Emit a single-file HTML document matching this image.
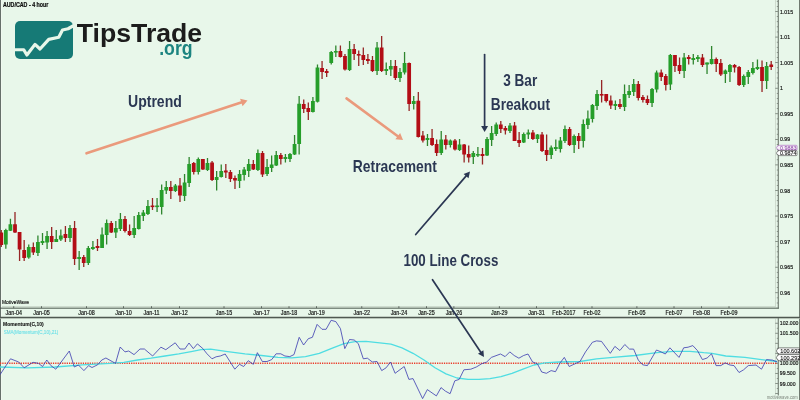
<!DOCTYPE html>
<html><head><meta charset="utf-8"><title>chart</title>
<style>html,body{margin:0;padding:0;background:#e8f7ea;}body{width:800px;height:400px;overflow:hidden;font-family:"Liberation Sans",sans-serif;}svg{display:block;}text{font-family:"Liberation Sans",sans-serif;}</style>
</head><body>
<svg width="800" height="400" viewBox="0 0 800 400">
<defs><filter id="soft" x="-5%" y="-5%" width="110%" height="110%"><feGaussianBlur stdDeviation="0.35"/></filter>
<filter id="soft2" x="-5%" y="-5%" width="110%" height="110%"><feGaussianBlur stdDeviation="0.45"/></filter><filter id="soft3" filterUnits="userSpaceOnUse" x="0" y="0" width="800" height="400"><feGaussianBlur stdDeviation="0.2"/></filter></defs>
<rect x="0" y="0" width="800" height="400" fill="#e8f7ea"/>
<g filter="url(#soft)">
<rect x="0" y="0" width="1.05" height="400" fill="#66706a"/>
<rect x="1.05" y="0" width="0.95" height="400" fill="#f1f9f1"/>
<rect x="799" y="0" width="1" height="400" fill="#6f7a70"/>
<rect x="2" y="306.1" width="773.8" height="0.6" fill="#bcc8bd"/>
<rect x="775.2" y="0" width="0.6" height="306.7" fill="#bcc8bd"/>
<rect x="775.2" y="318.6" width="0.6" height="77" fill="#bcc8bd"/>
<rect x="0" y="307.65" width="778.75" height="1.0" fill="#48524a"/>
<rect x="0" y="316.75" width="800" height="1.35" fill="#4f5951"/><rect x="0" y="318.1" width="800" height="0.7" fill="#a9b5aa"/>
<rect x="777.75" y="0" width="1.0" height="308.6" fill="#5f6a60"/>
<rect x="777.75" y="318.1" width="1.0" height="77.4" fill="#5f6a60"/>
<rect x="776.80" y="0.91" width="1.10" height="0.7" fill="#5f6a60"/>
<rect x="776.80" y="6.03" width="1.10" height="0.7" fill="#5f6a60"/>
<rect x="775.30" y="11.14" width="2.60" height="0.7" fill="#5f6a60"/>
<rect x="776.80" y="16.25" width="1.10" height="0.7" fill="#5f6a60"/>
<rect x="776.80" y="21.37" width="1.10" height="0.7" fill="#5f6a60"/>
<rect x="776.80" y="26.48" width="1.10" height="0.7" fill="#5f6a60"/>
<rect x="776.80" y="31.60" width="1.10" height="0.7" fill="#5f6a60"/>
<rect x="775.30" y="36.71" width="2.60" height="0.7" fill="#5f6a60"/>
<rect x="776.80" y="41.82" width="1.10" height="0.7" fill="#5f6a60"/>
<rect x="776.80" y="46.94" width="1.10" height="0.7" fill="#5f6a60"/>
<rect x="776.80" y="52.05" width="1.10" height="0.7" fill="#5f6a60"/>
<rect x="776.80" y="57.17" width="1.10" height="0.7" fill="#5f6a60"/>
<rect x="775.30" y="62.28" width="2.60" height="0.7" fill="#5f6a60"/>
<rect x="776.80" y="67.39" width="1.10" height="0.7" fill="#5f6a60"/>
<rect x="776.80" y="72.51" width="1.10" height="0.7" fill="#5f6a60"/>
<rect x="776.80" y="77.62" width="1.10" height="0.7" fill="#5f6a60"/>
<rect x="776.80" y="82.74" width="1.10" height="0.7" fill="#5f6a60"/>
<rect x="775.30" y="87.85" width="2.60" height="0.7" fill="#5f6a60"/>
<rect x="776.80" y="92.96" width="1.10" height="0.7" fill="#5f6a60"/>
<rect x="776.80" y="98.08" width="1.10" height="0.7" fill="#5f6a60"/>
<rect x="776.80" y="103.19" width="1.10" height="0.7" fill="#5f6a60"/>
<rect x="776.80" y="108.31" width="1.10" height="0.7" fill="#5f6a60"/>
<rect x="775.30" y="113.42" width="2.60" height="0.7" fill="#5f6a60"/>
<rect x="776.80" y="118.53" width="1.10" height="0.7" fill="#5f6a60"/>
<rect x="776.80" y="123.65" width="1.10" height="0.7" fill="#5f6a60"/>
<rect x="776.80" y="128.76" width="1.10" height="0.7" fill="#5f6a60"/>
<rect x="776.80" y="133.88" width="1.10" height="0.7" fill="#5f6a60"/>
<rect x="775.30" y="138.99" width="2.60" height="0.7" fill="#5f6a60"/>
<rect x="776.80" y="144.10" width="1.10" height="0.7" fill="#5f6a60"/>
<rect x="776.80" y="149.22" width="1.10" height="0.7" fill="#5f6a60"/>
<rect x="776.80" y="154.33" width="1.10" height="0.7" fill="#5f6a60"/>
<rect x="776.80" y="159.45" width="1.10" height="0.7" fill="#5f6a60"/>
<rect x="775.30" y="164.56" width="2.60" height="0.7" fill="#5f6a60"/>
<rect x="776.80" y="169.67" width="1.10" height="0.7" fill="#5f6a60"/>
<rect x="776.80" y="174.79" width="1.10" height="0.7" fill="#5f6a60"/>
<rect x="776.80" y="179.90" width="1.10" height="0.7" fill="#5f6a60"/>
<rect x="776.80" y="185.02" width="1.10" height="0.7" fill="#5f6a60"/>
<rect x="775.30" y="190.13" width="2.60" height="0.7" fill="#5f6a60"/>
<rect x="776.80" y="195.24" width="1.10" height="0.7" fill="#5f6a60"/>
<rect x="776.80" y="200.36" width="1.10" height="0.7" fill="#5f6a60"/>
<rect x="776.80" y="205.47" width="1.10" height="0.7" fill="#5f6a60"/>
<rect x="776.80" y="210.59" width="1.10" height="0.7" fill="#5f6a60"/>
<rect x="775.30" y="215.70" width="2.60" height="0.7" fill="#5f6a60"/>
<rect x="776.80" y="220.81" width="1.10" height="0.7" fill="#5f6a60"/>
<rect x="776.80" y="225.93" width="1.10" height="0.7" fill="#5f6a60"/>
<rect x="776.80" y="231.04" width="1.10" height="0.7" fill="#5f6a60"/>
<rect x="776.80" y="236.16" width="1.10" height="0.7" fill="#5f6a60"/>
<rect x="775.30" y="241.27" width="2.60" height="0.7" fill="#5f6a60"/>
<rect x="776.80" y="246.38" width="1.10" height="0.7" fill="#5f6a60"/>
<rect x="776.80" y="251.50" width="1.10" height="0.7" fill="#5f6a60"/>
<rect x="776.80" y="256.61" width="1.10" height="0.7" fill="#5f6a60"/>
<rect x="776.80" y="261.73" width="1.10" height="0.7" fill="#5f6a60"/>
<rect x="775.30" y="266.84" width="2.60" height="0.7" fill="#5f6a60"/>
<rect x="776.80" y="271.95" width="1.10" height="0.7" fill="#5f6a60"/>
<rect x="776.80" y="277.07" width="1.10" height="0.7" fill="#5f6a60"/>
<rect x="776.80" y="282.18" width="1.10" height="0.7" fill="#5f6a60"/>
<rect x="776.80" y="287.30" width="1.10" height="0.7" fill="#5f6a60"/>
<rect x="775.30" y="292.41" width="2.60" height="0.7" fill="#5f6a60"/>
<rect x="776.80" y="297.52" width="1.10" height="0.7" fill="#5f6a60"/>
<rect x="776.80" y="302.64" width="1.10" height="0.7" fill="#5f6a60"/>
<rect x="775.30" y="322.83" width="2.60" height="0.7" fill="#5f6a60"/>
<rect x="776.80" y="327.84" width="1.10" height="0.7" fill="#5f6a60"/>
<rect x="775.30" y="332.86" width="2.60" height="0.7" fill="#5f6a60"/>
<rect x="776.80" y="337.88" width="1.10" height="0.7" fill="#5f6a60"/>
<rect x="775.30" y="342.89" width="2.60" height="0.7" fill="#5f6a60"/>
<rect x="776.80" y="347.90" width="1.10" height="0.7" fill="#5f6a60"/>
<rect x="775.30" y="352.92" width="2.60" height="0.7" fill="#5f6a60"/>
<rect x="776.80" y="357.94" width="1.10" height="0.7" fill="#5f6a60"/>
<rect x="775.30" y="362.95" width="2.60" height="0.7" fill="#5f6a60"/>
<rect x="776.80" y="367.96" width="1.10" height="0.7" fill="#5f6a60"/>
<rect x="775.30" y="372.98" width="2.60" height="0.7" fill="#5f6a60"/>
<rect x="776.80" y="378.00" width="1.10" height="0.7" fill="#5f6a60"/>
<rect x="775.30" y="383.01" width="2.60" height="0.7" fill="#5f6a60"/>
<rect x="776.80" y="388.02" width="1.10" height="0.7" fill="#5f6a60"/>
<rect x="775.30" y="393.04" width="2.60" height="0.7" fill="#5f6a60"/>
<rect x="13.35" y="306.2" width="0.8" height="1.9" fill="#48524a"/>
<rect x="41.10" y="306.2" width="0.8" height="1.9" fill="#48524a"/>
<rect x="86.10" y="306.2" width="0.8" height="1.9" fill="#48524a"/>
<rect x="123.10" y="306.2" width="0.8" height="1.9" fill="#48524a"/>
<rect x="151.10" y="306.2" width="0.8" height="1.9" fill="#48524a"/>
<rect x="179.10" y="306.2" width="0.8" height="1.9" fill="#48524a"/>
<rect x="223.60" y="306.2" width="0.8" height="1.9" fill="#48524a"/>
<rect x="261.10" y="306.2" width="0.8" height="1.9" fill="#48524a"/>
<rect x="288.60" y="306.2" width="0.8" height="1.9" fill="#48524a"/>
<rect x="316.10" y="306.2" width="0.8" height="1.9" fill="#48524a"/>
<rect x="361.40" y="306.2" width="0.8" height="1.9" fill="#48524a"/>
<rect x="398.50" y="306.2" width="0.8" height="1.9" fill="#48524a"/>
<rect x="426.00" y="306.2" width="0.8" height="1.9" fill="#48524a"/>
<rect x="453.50" y="306.2" width="0.8" height="1.9" fill="#48524a"/>
<rect x="498.90" y="306.2" width="0.8" height="1.9" fill="#48524a"/>
<rect x="536.10" y="306.2" width="0.8" height="1.9" fill="#48524a"/>
<rect x="563.50" y="306.2" width="0.8" height="1.9" fill="#48524a"/>
<rect x="591.60" y="306.2" width="0.8" height="1.9" fill="#48524a"/>
<rect x="636.50" y="306.2" width="0.8" height="1.9" fill="#48524a"/>
<rect x="673.60" y="306.2" width="0.8" height="1.9" fill="#48524a"/>
<rect x="701.10" y="306.2" width="0.8" height="1.9" fill="#48524a"/>
<rect x="728.60" y="306.2" width="0.8" height="1.9" fill="#48524a"/>
</g>
<g filter="url(#soft)">
<text transform="translate(780.00,13.59) scale(0.900,1)" font-size="5.80" text-anchor="start" fill="#121512" stroke="#121512" stroke-width="0.18">1.015</text>
<text transform="translate(780.00,39.16) scale(0.900,1)" font-size="5.80" text-anchor="start" fill="#121512" stroke="#121512" stroke-width="0.18">1.01</text>
<text transform="translate(780.00,64.73) scale(0.900,1)" font-size="5.80" text-anchor="start" fill="#121512" stroke="#121512" stroke-width="0.18">1.005</text>
<text transform="translate(780.00,90.30) scale(0.900,1)" font-size="5.80" text-anchor="start" fill="#121512" stroke="#121512" stroke-width="0.18">1</text>
<text transform="translate(780.00,115.87) scale(0.900,1)" font-size="5.80" text-anchor="start" fill="#121512" stroke="#121512" stroke-width="0.18">0.995</text>
<text transform="translate(780.00,141.44) scale(0.900,1)" font-size="5.80" text-anchor="start" fill="#121512" stroke="#121512" stroke-width="0.18">0.99</text>
<text transform="translate(780.00,167.01) scale(0.900,1)" font-size="5.80" text-anchor="start" fill="#121512" stroke="#121512" stroke-width="0.18">0.985</text>
<text transform="translate(780.00,192.58) scale(0.900,1)" font-size="5.80" text-anchor="start" fill="#121512" stroke="#121512" stroke-width="0.18">0.98</text>
<text transform="translate(780.00,218.15) scale(0.900,1)" font-size="5.80" text-anchor="start" fill="#121512" stroke="#121512" stroke-width="0.18">0.975</text>
<text transform="translate(780.00,243.72) scale(0.900,1)" font-size="5.80" text-anchor="start" fill="#121512" stroke="#121512" stroke-width="0.18">0.97</text>
<text transform="translate(780.00,269.29) scale(0.900,1)" font-size="5.80" text-anchor="start" fill="#121512" stroke="#121512" stroke-width="0.18">0.965</text>
<text transform="translate(780.00,294.86) scale(0.900,1)" font-size="5.80" text-anchor="start" fill="#121512" stroke="#121512" stroke-width="0.18">0.96</text>
<text transform="translate(779.80,325.33) scale(0.890,1)" font-size="5.80" text-anchor="start" fill="#121512" stroke="#121512" stroke-width="0.18">102.000</text>
<text transform="translate(779.80,335.36) scale(0.890,1)" font-size="5.80" text-anchor="start" fill="#121512" stroke="#121512" stroke-width="0.18">101.500</text>
<text transform="translate(779.80,365.45) scale(0.890,1)" font-size="5.80" text-anchor="start" fill="#121512" stroke="#121512" stroke-width="0.18">100.000</text>
<text transform="translate(779.80,375.48) scale(0.890,1)" font-size="5.80" text-anchor="start" fill="#121512" stroke="#121512" stroke-width="0.18">99.500</text>
<text transform="translate(779.80,385.51) scale(0.890,1)" font-size="5.80" text-anchor="start" fill="#121512" stroke="#121512" stroke-width="0.18">99.000</text>
<text transform="translate(13.85,314.75) scale(0.855,1)" font-size="6.30" text-anchor="middle" fill="#121512" stroke="#121512" stroke-width="0.18">Jan-04</text>
<text transform="translate(41.50,314.75) scale(0.855,1)" font-size="6.30" text-anchor="middle" fill="#121512" stroke="#121512" stroke-width="0.18">Jan-05</text>
<text transform="translate(86.50,314.75) scale(0.855,1)" font-size="6.30" text-anchor="middle" fill="#121512" stroke="#121512" stroke-width="0.18">Jan-08</text>
<text transform="translate(123.50,314.75) scale(0.855,1)" font-size="6.30" text-anchor="middle" fill="#121512" stroke="#121512" stroke-width="0.18">Jan-10</text>
<text transform="translate(151.50,314.75) scale(0.855,1)" font-size="6.30" text-anchor="middle" fill="#121512" stroke="#121512" stroke-width="0.18">Jan-11</text>
<text transform="translate(179.50,314.75) scale(0.855,1)" font-size="6.30" text-anchor="middle" fill="#121512" stroke="#121512" stroke-width="0.18">Jan-12</text>
<text transform="translate(224.00,314.75) scale(0.855,1)" font-size="6.30" text-anchor="middle" fill="#121512" stroke="#121512" stroke-width="0.18">Jan-15</text>
<text transform="translate(261.50,314.75) scale(0.855,1)" font-size="6.30" text-anchor="middle" fill="#121512" stroke="#121512" stroke-width="0.18">Jan-17</text>
<text transform="translate(289.00,314.75) scale(0.855,1)" font-size="6.30" text-anchor="middle" fill="#121512" stroke="#121512" stroke-width="0.18">Jan-18</text>
<text transform="translate(316.50,314.75) scale(0.855,1)" font-size="6.30" text-anchor="middle" fill="#121512" stroke="#121512" stroke-width="0.18">Jan-19</text>
<text transform="translate(361.80,314.75) scale(0.855,1)" font-size="6.30" text-anchor="middle" fill="#121512" stroke="#121512" stroke-width="0.18">Jan-22</text>
<text transform="translate(398.90,314.75) scale(0.855,1)" font-size="6.30" text-anchor="middle" fill="#121512" stroke="#121512" stroke-width="0.18">Jan-24</text>
<text transform="translate(426.40,314.75) scale(0.855,1)" font-size="6.30" text-anchor="middle" fill="#121512" stroke="#121512" stroke-width="0.18">Jan-25</text>
<text transform="translate(453.90,314.75) scale(0.855,1)" font-size="6.30" text-anchor="middle" fill="#121512" stroke="#121512" stroke-width="0.18">Jan-26</text>
<text transform="translate(499.30,314.75) scale(0.855,1)" font-size="6.30" text-anchor="middle" fill="#121512" stroke="#121512" stroke-width="0.18">Jan-29</text>
<text transform="translate(536.50,314.75) scale(0.855,1)" font-size="6.30" text-anchor="middle" fill="#121512" stroke="#121512" stroke-width="0.18">Jan-31</text>
<text transform="translate(563.90,314.75) scale(0.855,1)" font-size="6.30" text-anchor="middle" fill="#121512" stroke="#121512" stroke-width="0.18">Feb-2017</text>
<text transform="translate(592.00,314.75) scale(0.855,1)" font-size="6.30" text-anchor="middle" fill="#121512" stroke="#121512" stroke-width="0.18">Feb-02</text>
<text transform="translate(636.90,314.75) scale(0.855,1)" font-size="6.30" text-anchor="middle" fill="#121512" stroke="#121512" stroke-width="0.18">Feb-05</text>
<text transform="translate(674.00,314.75) scale(0.855,1)" font-size="6.30" text-anchor="middle" fill="#121512" stroke="#121512" stroke-width="0.18">Feb-07</text>
<text transform="translate(701.50,314.75) scale(0.855,1)" font-size="6.30" text-anchor="middle" fill="#121512" stroke="#121512" stroke-width="0.18">Feb-08</text>
<text transform="translate(729.00,314.75) scale(0.855,1)" font-size="6.30" text-anchor="middle" fill="#121512" stroke="#121512" stroke-width="0.18">Feb-09</text>
<text transform="translate(1.90,303.75) scale(0.810,1)" font-size="6.10" text-anchor="start" fill="#121512" stroke="#121512" stroke-width="0.18">MotiveWave</text>
<text transform="translate(2.90,7.40) scale(0.845,1)" font-size="6.30" text-anchor="start" fill="#0c0c0c" stroke="#0c0c0c" stroke-width="0.20" font-weight="bold">AUD/CAD - 4 hour</text>
<text transform="translate(3.10,326.00) scale(0.863,1)" font-size="5.80" text-anchor="start" fill="#111" stroke="#111" stroke-width="0.10" font-weight="bold">Momentum(C,10)</text>
<text transform="translate(3.70,333.75) scale(0.786,1)" font-size="5.80" text-anchor="start" fill="#6fe0e7" stroke="#6fe0e7" stroke-width="0.10">SMA(Momentum(C,10),21)</text>
<text transform="translate(797.80,398.60) scale(0.925,1)" font-size="4.50" text-anchor="end" fill="#8a948a" stroke="#8a948a" stroke-width="0.05">motivewave.com</text>
</g>
<g filter="url(#soft)">
<rect x="0.60" y="230.00" width="1.3" height="17.00" fill="#962626"/>
<rect x="-0.65" y="232.50" width="3.8" height="12.50" fill="#b30f19"/>
<rect x="5.18" y="228.75" width="1.3" height="20.00" fill="#2f862f"/>
<rect x="3.93" y="230.00" width="3.8" height="14.50" fill="#259e2c"/>
<rect x="9.77" y="218.75" width="1.3" height="12.25" fill="#2f862f"/>
<rect x="8.52" y="224.25" width="3.8" height="6.50" fill="#259e2c"/>
<rect x="14.35" y="212.00" width="1.3" height="21.00" fill="#962626"/>
<rect x="13.10" y="224.25" width="3.8" height="8.25" fill="#b30f19"/>
<rect x="18.93" y="232.00" width="1.3" height="29.00" fill="#962626"/>
<rect x="17.68" y="232.00" width="3.8" height="17.50" fill="#b30f19"/>
<rect x="23.52" y="240.00" width="1.3" height="21.00" fill="#962626"/>
<rect x="22.27" y="250.00" width="3.8" height="8.00" fill="#b30f19"/>
<rect x="28.10" y="244.50" width="1.3" height="14.25" fill="#2f862f"/>
<rect x="26.85" y="247.00" width="3.8" height="10.50" fill="#259e2c"/>
<rect x="32.68" y="242.50" width="1.3" height="12.50" fill="#962626"/>
<rect x="31.43" y="247.00" width="3.8" height="5.50" fill="#b30f19"/>
<rect x="37.26" y="235.50" width="1.3" height="20.50" fill="#2f862f"/>
<rect x="36.01" y="242.00" width="3.8" height="11.00" fill="#259e2c"/>
<rect x="41.85" y="233.00" width="1.3" height="12.00" fill="#2f862f"/>
<rect x="40.60" y="241.00" width="3.8" height="2.00" fill="#259e2c"/>
<rect x="46.43" y="231.00" width="1.3" height="18.00" fill="#2f862f"/>
<rect x="45.18" y="236.00" width="3.8" height="6.50" fill="#259e2c"/>
<rect x="51.01" y="227.00" width="1.3" height="22.00" fill="#962626"/>
<rect x="49.76" y="236.00" width="3.8" height="6.00" fill="#b30f19"/>
<rect x="55.60" y="230.00" width="1.3" height="12.00" fill="#2f862f"/>
<rect x="54.35" y="239.00" width="3.8" height="3.00" fill="#259e2c"/>
<rect x="60.18" y="229.50" width="1.3" height="11.50" fill="#2f862f"/>
<rect x="58.93" y="235.50" width="3.8" height="4.00" fill="#259e2c"/>
<rect x="64.76" y="226.00" width="1.3" height="16.00" fill="#962626"/>
<rect x="63.51" y="234.00" width="3.8" height="4.00" fill="#b30f19"/>
<rect x="69.35" y="225.00" width="1.3" height="17.00" fill="#2f862f"/>
<rect x="68.10" y="228.00" width="3.8" height="10.00" fill="#259e2c"/>
<rect x="73.93" y="221.00" width="1.3" height="44.00" fill="#962626"/>
<rect x="72.68" y="228.00" width="3.8" height="31.00" fill="#b30f19"/>
<rect x="78.51" y="251.00" width="1.3" height="19.00" fill="#2f862f"/>
<rect x="77.26" y="257.00" width="3.8" height="2.00" fill="#259e2c"/>
<rect x="83.09" y="255.00" width="1.3" height="12.00" fill="#962626"/>
<rect x="81.84" y="257.00" width="3.8" height="6.00" fill="#b30f19"/>
<rect x="87.68" y="246.00" width="1.3" height="19.00" fill="#2f862f"/>
<rect x="86.43" y="248.00" width="3.8" height="15.00" fill="#259e2c"/>
<rect x="92.26" y="241.00" width="1.3" height="9.00" fill="#2f862f"/>
<rect x="91.01" y="247.00" width="3.8" height="2.00" fill="#259e2c"/>
<rect x="96.84" y="239.00" width="1.3" height="12.00" fill="#962626"/>
<rect x="95.59" y="246.00" width="3.8" height="2.00" fill="#b30f19"/>
<rect x="101.43" y="227.50" width="1.3" height="20.50" fill="#2f862f"/>
<rect x="100.18" y="234.50" width="3.8" height="13.50" fill="#259e2c"/>
<rect x="106.01" y="219.50" width="1.3" height="25.00" fill="#2f862f"/>
<rect x="104.76" y="223.00" width="3.8" height="12.00" fill="#259e2c"/>
<rect x="110.59" y="221.00" width="1.3" height="12.00" fill="#962626"/>
<rect x="109.34" y="223.00" width="3.8" height="9.50" fill="#b30f19"/>
<rect x="115.18" y="221.00" width="1.3" height="17.00" fill="#2f862f"/>
<rect x="113.93" y="228.00" width="3.8" height="4.50" fill="#259e2c"/>
<rect x="119.76" y="213.00" width="1.3" height="18.00" fill="#2f862f"/>
<rect x="118.51" y="219.00" width="3.8" height="10.00" fill="#259e2c"/>
<rect x="124.34" y="216.00" width="1.3" height="16.50" fill="#962626"/>
<rect x="123.09" y="219.00" width="3.8" height="12.00" fill="#b30f19"/>
<rect x="128.93" y="224.50" width="1.3" height="11.50" fill="#962626"/>
<rect x="127.68" y="231.00" width="3.8" height="4.00" fill="#b30f19"/>
<rect x="133.51" y="216.00" width="1.3" height="22.00" fill="#2f862f"/>
<rect x="132.26" y="228.00" width="3.8" height="7.00" fill="#259e2c"/>
<rect x="138.09" y="212.00" width="1.3" height="17.50" fill="#2f862f"/>
<rect x="136.84" y="215.00" width="3.8" height="14.00" fill="#259e2c"/>
<rect x="142.67" y="210.00" width="1.3" height="11.00" fill="#2f862f"/>
<rect x="141.42" y="212.50" width="3.8" height="3.50" fill="#259e2c"/>
<rect x="147.26" y="200.00" width="1.3" height="15.00" fill="#2f862f"/>
<rect x="146.01" y="206.00" width="3.8" height="8.00" fill="#259e2c"/>
<rect x="151.84" y="198.00" width="1.3" height="12.00" fill="#962626"/>
<rect x="150.59" y="205.50" width="3.8" height="1.60" fill="#b30f19"/>
<rect x="156.42" y="198.00" width="1.3" height="14.00" fill="#2f862f"/>
<rect x="155.17" y="205.50" width="3.8" height="1.60" fill="#259e2c"/>
<rect x="161.01" y="184.50" width="1.3" height="30.00" fill="#2f862f"/>
<rect x="159.76" y="190.00" width="3.8" height="17.00" fill="#259e2c"/>
<rect x="165.59" y="181.00" width="1.3" height="13.00" fill="#2f862f"/>
<rect x="164.34" y="187.00" width="3.8" height="3.50" fill="#259e2c"/>
<rect x="170.17" y="181.00" width="1.3" height="18.00" fill="#962626"/>
<rect x="168.92" y="187.00" width="3.8" height="4.00" fill="#b30f19"/>
<rect x="174.76" y="184.00" width="1.3" height="8.00" fill="#2f862f"/>
<rect x="173.51" y="185.50" width="3.8" height="5.50" fill="#259e2c"/>
<rect x="179.34" y="178.00" width="1.3" height="24.00" fill="#962626"/>
<rect x="178.09" y="185.50" width="3.8" height="10.00" fill="#b30f19"/>
<rect x="183.92" y="174.00" width="1.3" height="27.00" fill="#2f862f"/>
<rect x="182.67" y="182.50" width="3.8" height="13.50" fill="#259e2c"/>
<rect x="188.50" y="157.00" width="1.3" height="30.00" fill="#2f862f"/>
<rect x="187.25" y="164.00" width="3.8" height="19.00" fill="#259e2c"/>
<rect x="193.09" y="162.00" width="1.3" height="12.50" fill="#962626"/>
<rect x="191.84" y="163.00" width="3.8" height="9.00" fill="#b30f19"/>
<rect x="197.67" y="157.50" width="1.3" height="17.00" fill="#2f862f"/>
<rect x="196.42" y="159.00" width="3.8" height="13.00" fill="#259e2c"/>
<rect x="202.25" y="159.00" width="1.3" height="11.00" fill="#962626"/>
<rect x="201.00" y="159.00" width="3.8" height="10.50" fill="#b30f19"/>
<rect x="206.84" y="158.00" width="1.3" height="13.00" fill="#2f862f"/>
<rect x="205.59" y="163.00" width="3.8" height="7.00" fill="#259e2c"/>
<rect x="211.42" y="161.00" width="1.3" height="20.00" fill="#962626"/>
<rect x="210.17" y="162.50" width="3.8" height="17.50" fill="#b30f19"/>
<rect x="216.00" y="171.00" width="1.3" height="19.50" fill="#2f862f"/>
<rect x="214.75" y="177.00" width="3.8" height="3.00" fill="#259e2c"/>
<rect x="220.59" y="164.50" width="1.3" height="13.00" fill="#2f862f"/>
<rect x="219.34" y="171.00" width="3.8" height="6.00" fill="#259e2c"/>
<rect x="225.17" y="164.00" width="1.3" height="14.00" fill="#962626"/>
<rect x="223.92" y="170.50" width="3.8" height="2.00" fill="#b30f19"/>
<rect x="229.75" y="170.00" width="1.3" height="12.00" fill="#962626"/>
<rect x="228.50" y="172.00" width="3.8" height="7.00" fill="#b30f19"/>
<rect x="234.33" y="175.50" width="1.3" height="13.50" fill="#962626"/>
<rect x="233.08" y="178.00" width="3.8" height="2.50" fill="#b30f19"/>
<rect x="238.92" y="170.00" width="1.3" height="18.00" fill="#2f862f"/>
<rect x="237.67" y="174.00" width="3.8" height="7.00" fill="#259e2c"/>
<rect x="243.50" y="167.00" width="1.3" height="13.50" fill="#2f862f"/>
<rect x="242.25" y="169.50" width="3.8" height="5.50" fill="#259e2c"/>
<rect x="248.08" y="159.00" width="1.3" height="18.00" fill="#2f862f"/>
<rect x="246.83" y="164.00" width="3.8" height="7.00" fill="#259e2c"/>
<rect x="252.67" y="160.00" width="1.3" height="10.00" fill="#962626"/>
<rect x="251.42" y="164.00" width="3.8" height="5.50" fill="#b30f19"/>
<rect x="257.25" y="149.50" width="1.3" height="21.50" fill="#2f862f"/>
<rect x="256.00" y="153.00" width="3.8" height="17.00" fill="#259e2c"/>
<rect x="261.83" y="151.00" width="1.3" height="26.00" fill="#962626"/>
<rect x="260.58" y="153.00" width="3.8" height="21.50" fill="#b30f19"/>
<rect x="266.42" y="159.00" width="1.3" height="17.00" fill="#2f862f"/>
<rect x="265.17" y="167.00" width="3.8" height="7.00" fill="#259e2c"/>
<rect x="271.00" y="155.50" width="1.3" height="16.50" fill="#2f862f"/>
<rect x="269.75" y="164.50" width="3.8" height="3.50" fill="#259e2c"/>
<rect x="275.58" y="151.00" width="1.3" height="15.00" fill="#2f862f"/>
<rect x="274.33" y="155.00" width="3.8" height="10.50" fill="#259e2c"/>
<rect x="280.17" y="153.00" width="1.3" height="11.50" fill="#962626"/>
<rect x="278.92" y="155.00" width="3.8" height="4.00" fill="#b30f19"/>
<rect x="284.75" y="154.00" width="1.3" height="8.50" fill="#2f862f"/>
<rect x="283.50" y="157.00" width="3.8" height="2.00" fill="#259e2c"/>
<rect x="289.33" y="153.00" width="1.3" height="9.00" fill="#2f862f"/>
<rect x="288.08" y="154.00" width="3.8" height="5.00" fill="#259e2c"/>
<rect x="293.91" y="135.00" width="1.3" height="20.00" fill="#2f862f"/>
<rect x="292.66" y="144.00" width="3.8" height="10.50" fill="#259e2c"/>
<rect x="298.50" y="96.00" width="1.3" height="58.50" fill="#2f862f"/>
<rect x="297.25" y="103.75" width="3.8" height="40.25" fill="#259e2c"/>
<rect x="303.08" y="99.50" width="1.3" height="13.50" fill="#962626"/>
<rect x="301.83" y="104.00" width="3.8" height="5.00" fill="#b30f19"/>
<rect x="307.66" y="102.50" width="1.3" height="17.50" fill="#962626"/>
<rect x="306.41" y="108.00" width="3.8" height="4.00" fill="#b30f19"/>
<rect x="312.25" y="97.00" width="1.3" height="15.50" fill="#2f862f"/>
<rect x="311.00" y="101.00" width="3.8" height="11.00" fill="#259e2c"/>
<rect x="316.83" y="64.50" width="1.3" height="38.00" fill="#2f862f"/>
<rect x="315.58" y="67.50" width="3.8" height="34.25" fill="#259e2c"/>
<rect x="321.41" y="61.00" width="1.3" height="18.00" fill="#962626"/>
<rect x="320.16" y="68.00" width="3.8" height="4.00" fill="#b30f19"/>
<rect x="326.00" y="69.00" width="1.3" height="8.00" fill="#962626"/>
<rect x="324.75" y="71.00" width="3.8" height="2.00" fill="#b30f19"/>
<rect x="330.58" y="51.00" width="1.3" height="13.50" fill="#2f862f"/>
<rect x="329.33" y="52.00" width="3.8" height="11.00" fill="#259e2c"/>
<rect x="335.16" y="45.50" width="1.3" height="11.50" fill="#2f862f"/>
<rect x="333.91" y="51.00" width="3.8" height="1.60" fill="#259e2c"/>
<rect x="339.74" y="45.50" width="1.3" height="12.00" fill="#962626"/>
<rect x="338.49" y="51.00" width="3.8" height="6.00" fill="#b30f19"/>
<rect x="344.33" y="54.00" width="1.3" height="16.50" fill="#962626"/>
<rect x="343.08" y="56.00" width="3.8" height="13.50" fill="#b30f19"/>
<rect x="348.91" y="41.00" width="1.3" height="30.00" fill="#2f862f"/>
<rect x="347.66" y="49.00" width="3.8" height="21.00" fill="#259e2c"/>
<rect x="353.49" y="44.00" width="1.3" height="16.00" fill="#962626"/>
<rect x="352.24" y="49.00" width="3.8" height="5.00" fill="#b30f19"/>
<rect x="358.08" y="50.50" width="1.3" height="15.50" fill="#962626"/>
<rect x="356.83" y="54.00" width="3.8" height="1.60" fill="#b30f19"/>
<rect x="362.66" y="47.50" width="1.3" height="17.50" fill="#962626"/>
<rect x="361.41" y="55.00" width="3.8" height="5.00" fill="#b30f19"/>
<rect x="367.24" y="54.00" width="1.3" height="10.00" fill="#962626"/>
<rect x="365.99" y="59.00" width="3.8" height="2.00" fill="#b30f19"/>
<rect x="371.83" y="56.00" width="1.3" height="16.00" fill="#962626"/>
<rect x="370.58" y="60.00" width="3.8" height="11.00" fill="#b30f19"/>
<rect x="376.41" y="42.00" width="1.3" height="33.00" fill="#2f862f"/>
<rect x="375.16" y="47.50" width="3.8" height="23.50" fill="#259e2c"/>
<rect x="380.99" y="36.00" width="1.3" height="36.00" fill="#962626"/>
<rect x="379.74" y="47.50" width="3.8" height="23.50" fill="#b30f19"/>
<rect x="385.58" y="62.50" width="1.3" height="12.50" fill="#2f862f"/>
<rect x="384.33" y="69.00" width="3.8" height="2.00" fill="#259e2c"/>
<rect x="390.16" y="60.00" width="1.3" height="16.00" fill="#2f862f"/>
<rect x="388.91" y="66.00" width="3.8" height="3.50" fill="#259e2c"/>
<rect x="394.74" y="60.00" width="1.3" height="20.00" fill="#962626"/>
<rect x="393.49" y="66.00" width="3.8" height="12.00" fill="#b30f19"/>
<rect x="399.32" y="68.00" width="1.3" height="14.00" fill="#2f862f"/>
<rect x="398.07" y="72.00" width="3.8" height="6.00" fill="#259e2c"/>
<rect x="403.91" y="52.00" width="1.3" height="22.50" fill="#2f862f"/>
<rect x="402.66" y="63.00" width="3.8" height="9.50" fill="#259e2c"/>
<rect x="408.49" y="62.50" width="1.3" height="48.50" fill="#962626"/>
<rect x="407.24" y="63.00" width="3.8" height="41.00" fill="#b30f19"/>
<rect x="413.07" y="96.00" width="1.3" height="13.50" fill="#2f862f"/>
<rect x="411.82" y="101.00" width="3.8" height="3.00" fill="#259e2c"/>
<rect x="417.66" y="92.00" width="1.3" height="45.50" fill="#962626"/>
<rect x="416.41" y="100.75" width="3.8" height="36.25" fill="#b30f19"/>
<rect x="422.24" y="131.00" width="1.3" height="11.50" fill="#962626"/>
<rect x="420.99" y="135.50" width="3.8" height="5.00" fill="#b30f19"/>
<rect x="426.82" y="134.00" width="1.3" height="12.00" fill="#2f862f"/>
<rect x="425.57" y="138.00" width="3.8" height="2.00" fill="#259e2c"/>
<rect x="431.41" y="129.00" width="1.3" height="17.00" fill="#962626"/>
<rect x="430.16" y="138.00" width="3.8" height="7.00" fill="#b30f19"/>
<rect x="435.99" y="139.50" width="1.3" height="16.50" fill="#962626"/>
<rect x="434.74" y="144.00" width="3.8" height="9.00" fill="#b30f19"/>
<rect x="440.57" y="131.00" width="1.3" height="24.00" fill="#2f862f"/>
<rect x="439.32" y="139.50" width="3.8" height="13.50" fill="#259e2c"/>
<rect x="445.15" y="135.00" width="1.3" height="14.50" fill="#962626"/>
<rect x="443.90" y="139.50" width="3.8" height="5.50" fill="#b30f19"/>
<rect x="449.74" y="139.50" width="1.3" height="8.00" fill="#2f862f"/>
<rect x="448.49" y="140.50" width="3.8" height="4.50" fill="#259e2c"/>
<rect x="454.32" y="139.00" width="1.3" height="11.50" fill="#962626"/>
<rect x="453.07" y="140.50" width="3.8" height="9.00" fill="#b30f19"/>
<rect x="458.90" y="139.00" width="1.3" height="12.00" fill="#2f862f"/>
<rect x="457.65" y="144.50" width="3.8" height="5.50" fill="#259e2c"/>
<rect x="463.49" y="144.00" width="1.3" height="18.50" fill="#962626"/>
<rect x="462.24" y="144.50" width="3.8" height="10.00" fill="#b30f19"/>
<rect x="468.07" y="145.50" width="1.3" height="17.00" fill="#962626"/>
<rect x="466.82" y="154.00" width="3.8" height="3.50" fill="#b30f19"/>
<rect x="472.65" y="151.00" width="1.3" height="13.00" fill="#2f862f"/>
<rect x="471.40" y="153.00" width="3.8" height="4.00" fill="#259e2c"/>
<rect x="477.24" y="147.00" width="1.3" height="10.00" fill="#2f862f"/>
<rect x="475.99" y="154.00" width="3.8" height="1.60" fill="#259e2c"/>
<rect x="481.82" y="148.00" width="1.3" height="16.50" fill="#962626"/>
<rect x="480.57" y="154.00" width="3.8" height="2.00" fill="#b30f19"/>
<rect x="486.40" y="137.00" width="1.3" height="19.00" fill="#2f862f"/>
<rect x="485.15" y="139.00" width="3.8" height="16.50" fill="#259e2c"/>
<rect x="490.98" y="126.00" width="1.3" height="20.00" fill="#2f862f"/>
<rect x="489.73" y="133.00" width="3.8" height="7.00" fill="#259e2c"/>
<rect x="495.57" y="122.50" width="1.3" height="13.50" fill="#2f862f"/>
<rect x="494.32" y="124.50" width="3.8" height="9.50" fill="#259e2c"/>
<rect x="500.15" y="121.00" width="1.3" height="12.00" fill="#962626"/>
<rect x="498.90" y="124.50" width="3.8" height="4.50" fill="#b30f19"/>
<rect x="504.73" y="126.00" width="1.3" height="8.50" fill="#962626"/>
<rect x="503.48" y="128.00" width="3.8" height="2.50" fill="#b30f19"/>
<rect x="509.32" y="123.00" width="1.3" height="10.00" fill="#2f862f"/>
<rect x="508.07" y="125.50" width="3.8" height="5.50" fill="#259e2c"/>
<rect x="513.90" y="122.00" width="1.3" height="19.00" fill="#962626"/>
<rect x="512.65" y="125.50" width="3.8" height="15.50" fill="#b30f19"/>
<rect x="518.48" y="132.00" width="1.3" height="15.00" fill="#962626"/>
<rect x="517.23" y="140.00" width="3.8" height="3.00" fill="#b30f19"/>
<rect x="523.07" y="132.50" width="1.3" height="10.50" fill="#2f862f"/>
<rect x="521.82" y="134.00" width="3.8" height="8.50" fill="#259e2c"/>
<rect x="527.65" y="129.50" width="1.3" height="9.50" fill="#2f862f"/>
<rect x="526.40" y="132.50" width="3.8" height="2.00" fill="#259e2c"/>
<rect x="532.23" y="130.00" width="1.3" height="10.00" fill="#962626"/>
<rect x="530.98" y="132.50" width="3.8" height="6.50" fill="#b30f19"/>
<rect x="536.82" y="134.00" width="1.3" height="9.00" fill="#2f862f"/>
<rect x="535.57" y="134.50" width="3.8" height="4.50" fill="#259e2c"/>
<rect x="541.40" y="132.00" width="1.3" height="20.00" fill="#962626"/>
<rect x="540.15" y="134.50" width="3.8" height="16.50" fill="#b30f19"/>
<rect x="545.98" y="134.50" width="1.3" height="26.50" fill="#962626"/>
<rect x="544.73" y="150.00" width="3.8" height="5.00" fill="#b30f19"/>
<rect x="550.56" y="145.50" width="1.3" height="13.50" fill="#2f862f"/>
<rect x="549.31" y="147.50" width="3.8" height="7.50" fill="#259e2c"/>
<rect x="555.15" y="139.50" width="1.3" height="11.50" fill="#2f862f"/>
<rect x="553.90" y="147.00" width="3.8" height="2.00" fill="#259e2c"/>
<rect x="559.73" y="137.00" width="1.3" height="15.50" fill="#2f862f"/>
<rect x="558.48" y="140.50" width="3.8" height="8.50" fill="#259e2c"/>
<rect x="564.31" y="125.50" width="1.3" height="17.50" fill="#2f862f"/>
<rect x="563.06" y="129.00" width="3.8" height="12.00" fill="#259e2c"/>
<rect x="568.90" y="127.00" width="1.3" height="19.00" fill="#962626"/>
<rect x="567.65" y="129.00" width="3.8" height="16.00" fill="#b30f19"/>
<rect x="573.48" y="134.50" width="1.3" height="18.50" fill="#2f862f"/>
<rect x="572.23" y="136.00" width="3.8" height="9.00" fill="#259e2c"/>
<rect x="578.06" y="133.00" width="1.3" height="16.00" fill="#962626"/>
<rect x="576.81" y="136.00" width="3.8" height="5.00" fill="#b30f19"/>
<rect x="582.65" y="119.50" width="1.3" height="28.00" fill="#2f862f"/>
<rect x="581.40" y="124.00" width="3.8" height="17.00" fill="#259e2c"/>
<rect x="587.23" y="110.50" width="1.3" height="18.50" fill="#2f862f"/>
<rect x="585.98" y="118.50" width="3.8" height="6.50" fill="#259e2c"/>
<rect x="591.81" y="104.00" width="1.3" height="18.50" fill="#2f862f"/>
<rect x="590.56" y="105.00" width="3.8" height="14.00" fill="#259e2c"/>
<rect x="596.39" y="90.00" width="1.3" height="20.00" fill="#2f862f"/>
<rect x="595.14" y="94.00" width="3.8" height="12.00" fill="#259e2c"/>
<rect x="600.98" y="80.00" width="1.3" height="22.50" fill="#962626"/>
<rect x="599.73" y="94.00" width="3.8" height="1.60" fill="#b30f19"/>
<rect x="605.56" y="94.00" width="1.3" height="8.50" fill="#962626"/>
<rect x="604.31" y="94.00" width="3.8" height="7.00" fill="#b30f19"/>
<rect x="610.14" y="95.50" width="1.3" height="13.50" fill="#962626"/>
<rect x="608.89" y="100.50" width="3.8" height="5.00" fill="#b30f19"/>
<rect x="614.73" y="100.50" width="1.3" height="9.50" fill="#2f862f"/>
<rect x="613.48" y="104.00" width="3.8" height="2.00" fill="#259e2c"/>
<rect x="619.31" y="99.00" width="1.3" height="10.00" fill="#962626"/>
<rect x="618.06" y="104.00" width="3.8" height="3.00" fill="#b30f19"/>
<rect x="623.89" y="84.50" width="1.3" height="26.50" fill="#2f862f"/>
<rect x="622.64" y="94.00" width="3.8" height="13.00" fill="#259e2c"/>
<rect x="628.48" y="85.00" width="1.3" height="13.00" fill="#2f862f"/>
<rect x="627.23" y="91.00" width="3.8" height="4.00" fill="#259e2c"/>
<rect x="633.06" y="79.00" width="1.3" height="17.00" fill="#2f862f"/>
<rect x="631.81" y="84.00" width="3.8" height="8.00" fill="#259e2c"/>
<rect x="637.64" y="81.00" width="1.3" height="19.50" fill="#962626"/>
<rect x="636.39" y="84.00" width="3.8" height="14.00" fill="#b30f19"/>
<rect x="642.23" y="95.00" width="1.3" height="7.50" fill="#962626"/>
<rect x="640.98" y="97.00" width="3.8" height="3.00" fill="#b30f19"/>
<rect x="646.81" y="95.50" width="1.3" height="9.50" fill="#962626"/>
<rect x="645.56" y="99.00" width="3.8" height="4.00" fill="#b30f19"/>
<rect x="651.39" y="88.00" width="1.3" height="19.00" fill="#2f862f"/>
<rect x="650.14" y="89.00" width="3.8" height="14.00" fill="#259e2c"/>
<rect x="655.97" y="70.50" width="1.3" height="22.00" fill="#2f862f"/>
<rect x="654.72" y="72.50" width="3.8" height="17.00" fill="#259e2c"/>
<rect x="660.56" y="69.50" width="1.3" height="11.50" fill="#962626"/>
<rect x="659.31" y="72.50" width="3.8" height="4.50" fill="#b30f19"/>
<rect x="665.14" y="74.00" width="1.3" height="16.50" fill="#962626"/>
<rect x="663.89" y="76.00" width="3.8" height="9.00" fill="#b30f19"/>
<rect x="669.72" y="54.00" width="1.3" height="36.00" fill="#2f862f"/>
<rect x="668.47" y="55.00" width="3.8" height="29.50" fill="#259e2c"/>
<rect x="674.31" y="55.00" width="1.3" height="17.00" fill="#962626"/>
<rect x="673.06" y="55.00" width="3.8" height="11.00" fill="#b30f19"/>
<rect x="678.89" y="57.50" width="1.3" height="16.50" fill="#962626"/>
<rect x="677.64" y="65.00" width="3.8" height="6.00" fill="#b30f19"/>
<rect x="683.47" y="53.00" width="1.3" height="25.00" fill="#2f862f"/>
<rect x="682.22" y="57.50" width="3.8" height="13.50" fill="#259e2c"/>
<rect x="688.06" y="55.00" width="1.3" height="9.50" fill="#962626"/>
<rect x="686.81" y="57.00" width="3.8" height="2.00" fill="#b30f19"/>
<rect x="692.64" y="54.00" width="1.3" height="10.50" fill="#2f862f"/>
<rect x="691.39" y="58.00" width="3.8" height="2.00" fill="#259e2c"/>
<rect x="697.22" y="55.00" width="1.3" height="7.00" fill="#2f862f"/>
<rect x="695.97" y="57.00" width="3.8" height="2.00" fill="#259e2c"/>
<rect x="701.80" y="54.00" width="1.3" height="13.00" fill="#962626"/>
<rect x="700.55" y="57.50" width="3.8" height="7.50" fill="#b30f19"/>
<rect x="706.39" y="62.50" width="1.3" height="11.50" fill="#2f862f"/>
<rect x="705.14" y="62.50" width="3.8" height="2.00" fill="#259e2c"/>
<rect x="710.97" y="46.00" width="1.3" height="18.50" fill="#2f862f"/>
<rect x="709.72" y="59.00" width="3.8" height="5.00" fill="#259e2c"/>
<rect x="715.55" y="57.50" width="1.3" height="14.50" fill="#962626"/>
<rect x="714.30" y="59.00" width="3.8" height="5.00" fill="#b30f19"/>
<rect x="720.14" y="59.00" width="1.3" height="17.00" fill="#962626"/>
<rect x="718.89" y="63.00" width="3.8" height="11.50" fill="#b30f19"/>
<rect x="724.72" y="69.50" width="1.3" height="13.50" fill="#2f862f"/>
<rect x="723.47" y="70.50" width="3.8" height="3.50" fill="#259e2c"/>
<rect x="729.30" y="64.00" width="1.3" height="18.00" fill="#2f862f"/>
<rect x="728.05" y="65.00" width="3.8" height="7.00" fill="#259e2c"/>
<rect x="733.89" y="64.00" width="1.3" height="8.50" fill="#962626"/>
<rect x="732.64" y="65.00" width="3.8" height="2.50" fill="#b30f19"/>
<rect x="738.47" y="66.00" width="1.3" height="20.00" fill="#962626"/>
<rect x="737.22" y="67.00" width="3.8" height="18.00" fill="#b30f19"/>
<rect x="743.05" y="74.50" width="1.3" height="12.50" fill="#2f862f"/>
<rect x="741.80" y="76.00" width="3.8" height="9.00" fill="#259e2c"/>
<rect x="747.63" y="70.00" width="1.3" height="14.00" fill="#2f862f"/>
<rect x="746.38" y="72.00" width="3.8" height="5.00" fill="#259e2c"/>
<rect x="752.22" y="62.00" width="1.3" height="12.50" fill="#2f862f"/>
<rect x="750.97" y="68.00" width="3.8" height="5.00" fill="#259e2c"/>
<rect x="756.80" y="59.50" width="1.3" height="10.50" fill="#2f862f"/>
<rect x="755.55" y="67.00" width="3.8" height="2.00" fill="#259e2c"/>
<rect x="761.38" y="60.50" width="1.3" height="31.50" fill="#962626"/>
<rect x="760.13" y="67.00" width="3.8" height="14.00" fill="#b30f19"/>
<rect x="765.97" y="62.00" width="1.3" height="27.00" fill="#2f862f"/>
<rect x="764.72" y="66.00" width="3.8" height="15.00" fill="#259e2c"/>
<rect x="770.55" y="61.00" width="1.3" height="9.00" fill="#962626"/>
<rect x="769.30" y="64.50" width="3.8" height="2.50" fill="#b30f19"/>
</g>
<line x1="0" y1="363.3" x2="777" y2="363.3" stroke="#ea3a28" stroke-width="1.45" stroke-dasharray="1.25,1.05"/>
<g filter="url(#soft)" fill="none">
<polyline points="0,367 27.5,367.8 55,367 82.5,364.8 110,363.4 123.8,362.3 137.5,360 151,358.2 165,356 178.8,353.8 192.5,351.3 201,349.7 210.6,349.1 225.8,351.3 245,353.8 261.5,355.5 278,357.4 291.8,357.9 305.5,356.6 319.3,353.3 333,347.8 344,343.6 355,341.7 366,341.4 379.8,342.8 391,344.2 402,347.8 413,353.3 424,360 435,367.8 446,373.9 457,378 468,379.4 479,379.4 490,378.6 501,376.6 512,373.3 523,369.2 534,365 545,362.9 558.8,362 580,361.5 596.5,358.8 613,357.4 635,355.5 657,352.7 673.5,351.3 690,351.3 703.8,352.7 712,353.3 725.8,356 745,357.4 761.5,359.6 777,361.5" stroke="#4fdde2" stroke-width="1.3" stroke-linejoin="round"/>
</g>
<polyline points="0,374.7 10.5,358.8 18.7,362 24.2,367.8 33,362.3 38.5,363.4 42.6,366.5 46.8,360 50.9,365.6 55.8,369.2 69.3,351 74.3,367 78.4,365 83.9,370.6 88.6,365.6 92,367.5 97.6,364.8 101.8,360 105.9,358 115.5,363.4 120.2,347 125,351.9 128.7,351 134,354.6 140,349 144.4,349 152.6,356 160.9,347.2 165.8,349.7 175.2,342.8 180,349 184.8,349 189,343 193.3,348.6 197.4,343.9 202.9,348.6 207,353.8 212,358.8 216.1,356.8 220.3,356 225.2,354 234.8,369.2 239.5,364.3 243.6,366.5 248.3,360.7 253.3,364.3 257.4,352.7 262.3,361.5 267,361.5 271.7,359.6 276.1,353.8 280.8,353.8 284.9,356 289.8,356.6 294,354.6 299.2,337.3 303.6,345 308.3,338.7 312.4,337.3 317.1,324.4 322,329.3 326.1,329.3 331.1,320.3 335.8,321.6 340.4,328.5 344.8,348.6 349.5,339.5 354.2,340 358.3,343.6 363.3,358.8 367.4,358.2 372.3,362 377,361.5 381.7,370.6 386.1,367.8 390.5,362 395.1,373.3 404.2,366.5 408.9,379.4 413,378.6 422.6,398.6 427.3,389.6 436.4,395.9 441,387.6 445.5,391.2 450.1,393.7 454.8,380.8 459.2,379.4 463.9,369.8 470.8,369.2 476.3,367 481.8,363.7 486.7,362 491.4,357.4 500.5,354 505.1,356.6 509.8,351.9 514.2,355.5 518.9,358.2 523.6,355.5 528,354 532.6,362 537.3,363.7 541.7,372 546.4,373.3 551.1,370.6 555.5,371.7 560.1,362.9 564.3,357.4 569.2,366.5 573.9,364.3 580,361.5 585.5,351.9 592.4,342.3 596.5,340.9 601.5,341.4 610.3,353.3 614.9,346.4 619.9,350.5 624.8,344.5 629.5,349.1 633.6,349.1 638.3,360.1 642.7,364.8 647.4,365.6 656.5,350 661.1,351.9 665.3,354 669.9,347.8 679,357.4 683.7,347.8 688.1,347.2 692.8,345.6 697.4,350.5 702.4,359.6 707.1,358 711.5,353.8 716.1,365.6 720.8,365.6 725.2,362.9 729.9,365 734,365.6 739,372.5 743.6,369.8 748.3,365.6 756,365 761.5,369.2 766.5,359.6 772.5,360.1 777.2,362" fill="none" stroke="#3a3ab0" stroke-width="0.8" stroke-linejoin="round" filter="url(#soft3)"/>
<g filter="url(#soft3)">
<path d="M776.4 147.75 Q777.4 145.30 779.4 145.30 H796.20 Q797.00 145.30 797.00 146.10 V149.40 Q797.00 150.20 796.20 150.20 H779.4 Q777.4 150.20 776.4 147.75 Z" fill="#f6f0f9" stroke="#a04fb8" stroke-width="0.55"/>
<text transform="translate(780.00,149.80) scale(0.900,1)" font-size="6.00" text-anchor="start" fill="#8f4aa6" stroke="#8f4aa6" stroke-width="0.05">0.9883</text>
<path d="M776.4 153.05 Q777.4 150.50 779.4 150.50 H796.20 Q797.00 150.50 797.00 151.30 V154.80 Q797.00 155.60 796.20 155.60 H779.4 Q777.4 155.60 776.4 153.05 Z" fill="#ffffff" stroke="#333" stroke-width="0.55"/>
<text transform="translate(780.00,155.20) scale(0.900,1)" font-size="6.00" text-anchor="start" fill="#111" stroke="#111" stroke-width="0.10">0.9874</text>
<path d="M776.4 350.95 Q777.4 347.90 779.4 347.90 H798.70 Q799.50 347.90 799.50 348.70 V353.20 Q799.50 354.00 798.70 354.00 H779.4 Q777.4 354.00 776.4 350.95 Z" fill="#ffffff" stroke="#222" stroke-width="0.55"/>
<text transform="translate(780.30,353.20) scale(0.900,1)" font-size="6.20" text-anchor="start" fill="#111" stroke="#111" stroke-width="0.10">100.602</text>
<path d="M776.4 357.65 Q777.4 354.60 779.4 354.60 H798.70 Q799.50 354.60 799.50 355.40 V359.90 Q799.50 360.70 798.70 360.70 H779.4 Q777.4 360.70 776.4 357.65 Z" fill="#ffffff" stroke="#222" stroke-width="0.55"/>
<text transform="translate(780.30,359.90) scale(0.900,1)" font-size="6.20" text-anchor="start" fill="#111" stroke="#111" stroke-width="0.10">100.292</text>
</g>
<g filter="url(#soft2)">
<line x1="86.50" y1="153.30" x2="241.80" y2="102.27" stroke="#ea9a7c" stroke-width="2.60" stroke-linecap="round"/><polygon points="247.50,100.40 242.57,106.23 240.08,98.63" fill="#ea9a7c"/>
<line x1="346.50" y1="98.40" x2="398.17" y2="136.44" stroke="#ea9a7c" stroke-width="2.60" stroke-linecap="round"/><polygon points="403.00,140.00 395.39,139.37 400.14,132.93" fill="#ea9a7c"/>
<line x1="484.60" y1="54.50" x2="484.60" y2="126.50" stroke="#2c3753" stroke-width="1.70" stroke-linecap="round"/><polygon points="484.60,132.00 481.10,126.00 488.10,126.00" fill="#2c3753"/>
<line x1="415.70" y1="234.50" x2="466.41" y2="175.67" stroke="#2c3753" stroke-width="1.70" stroke-linecap="round"/><polygon points="470.00,171.50 468.54,178.17 463.62,173.92" fill="#2c3753"/>
<line x1="432.50" y1="279.70" x2="480.95" y2="352.42" stroke="#2c3753" stroke-width="1.70" stroke-linecap="round"/><polygon points="484.00,357.00 477.97,353.81 483.38,350.20" fill="#2c3753"/>
</g>
<g fill="#2c3753" font-weight="bold" font-size="16.4" filter="url(#soft)">
<text x="128.0" y="106.9" textLength="53.8" lengthAdjust="spacingAndGlyphs">Uptrend</text>
<text x="352.8" y="172.0" textLength="84.0" lengthAdjust="spacingAndGlyphs">Retracement</text>
<text x="503.2" y="86.2" textLength="34.0" lengthAdjust="spacingAndGlyphs">3 Bar</text>
<text x="490.8" y="109.9" textLength="59.2" lengthAdjust="spacingAndGlyphs">Breakout</text>
<text x="403.5" y="266.4" textLength="94.8" lengthAdjust="spacingAndGlyphs">100 Line Cross</text>
</g>
<g filter="url(#soft)">
<rect x="15" y="21" width="58" height="38" rx="5" fill="#187a76"/>
<polyline points="14.5,49.75 23.75,49.75 26.9,55 35,44.4 40,49 48.75,39.4 58.75,37.25 62.5,30 68.1,28.75 74.4,25.1" fill="none" stroke="#e8f7ea" stroke-width="3.2" stroke-linejoin="round"/>
<text x="76.8" y="42.0" font-size="25.3" font-weight="bold" fill="#1a1a1a" textLength="125.4" lengthAdjust="spacingAndGlyphs">TipsTrade</text>
<text x="159.2" y="55.1" font-size="19.6" font-weight="bold" fill="#1c8480" textLength="33.4" lengthAdjust="spacingAndGlyphs">.org</text>
</g>
</svg></body></html>
